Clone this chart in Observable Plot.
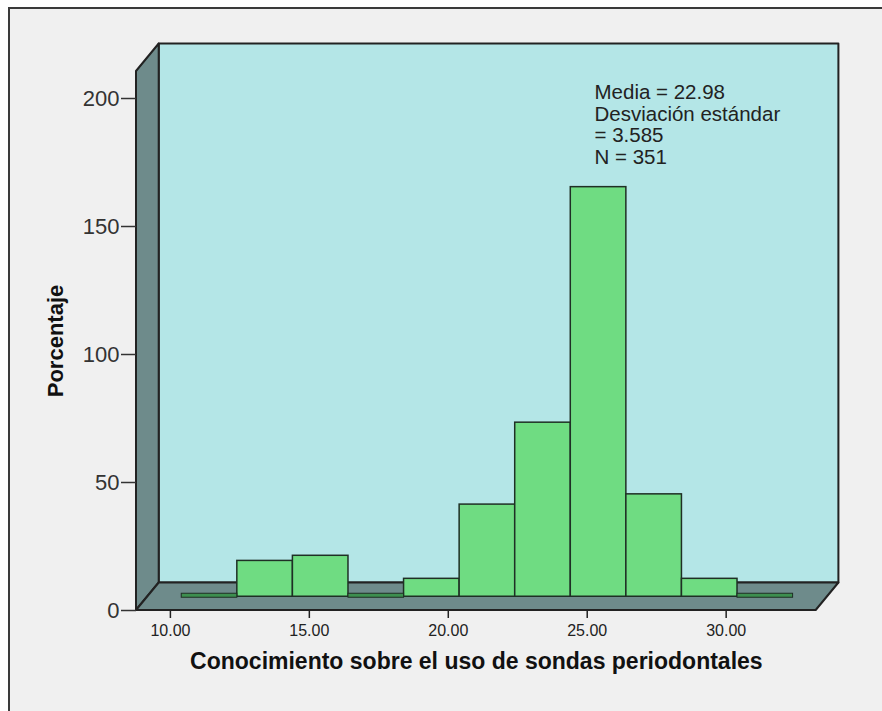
<!DOCTYPE html>
<html><head><meta charset="utf-8">
<script src="https://cdn.jsdelivr.net/npm/d3@7"></script>
<script src="https://cdn.jsdelivr.net/npm/@observablehq/plot@0.6"></script>
<style>html,body{margin:0;padding:0;background:#fff;} svg{display:block}</style>
</head><body><div id="chart"></div>
<script>
// ---- data ----
const binStart = [10, 12, 14, 16, 18, 20, 22, 24, 26, 28, 30];
const binWidth = 2;
const counts = [0, 14, 16, 0, 7, 36, 68, 160, 40, 7, 0];
const xTicks = [10, 15, 20, 25, 30];
const yTicks = [0, 50, 100, 150, 200];
const statsLines = ["Media = 22.98", "Desviación estándar", "= 3.585", "N = 351"];
const xTitle = "Conocimiento sobre el uso de sondas periodontales";
const yTitle = "Porcentaje";

const bins = binStart.map((s, i) => ({x1: s, x2: s + binWidth, count: counts[i]}));
const DX = 22.7, DY = -27.5; // 3D depth offset
const xDomain = [8.78, 33.24], yDomain = [0, 210.55];
const FONT = "'Liberation Sans', Arial, sans-serif";

function scene(index, scales, values, dims) {
  const g = d3.create("svg:g");
  const X = scales.x, Y = scales.y;
  const l = X(xDomain[0]), r = X(xDomain[1]), b = Y(0), t = Y(yDomain[1]);
  g.append("rect").attr("x", 9).attr("y", 8).attr("width", dims.width).attr("height", dims.height)
    .attr("fill", "#f0f0f0").attr("stroke", "#3a3a3a").attr("stroke-width", 2);
  const poly = (pts, fill) => g.append("path")
    .attr("d", "M" + pts.map(p => p.join(",")).join("L") + "Z")
    .attr("fill", fill).attr("stroke", "#222").attr("stroke-width", 2).attr("stroke-linejoin", "round");
  poly([[l + DX, t + DY], [r + DX, t + DY], [r + DX, b + DY], [l + DX, b + DY]], "#b4e6e7");
  poly([[l, t], [l + DX, t + DY], [l + DX, b + DY], [l, b]], "#6e8b8b");
  poly([[l, b], [l + DX, b + DY], [r + DX, b + DY], [r, b]], "#6e8b8b");
  return g.node();
}

const chart = Plot.plot({
  width: 882, height: 711,
  marginTop: 71, marginBottom: 101, marginLeft: 136, marginRight: 66.3,
  style: {fontFamily: FONT, background: "#fff", overflow: "visible"},
  x: {domain: xDomain},
  y: {domain: yDomain},
  marks: [
    scene,
    Plot.rect(bins.filter(d => d.count > 0), {
      x1: "x1", x2: "x2", y1: 0, y2: "count", dx: DX / 2, dy: DY / 2,
      fill: "#6fdc82", stroke: "#1f2f25", strokeWidth: 1.5
    }),
    Plot.rect(bins.filter(d => d.count === 0), {
      x1: "x1", x2: "x2", y1: 0, y2: 0, insetTop: -3, insetBottom: -1, dx: DX / 2, dy: DY / 2,
      fill: "#3d8f4f", stroke: "#1f2f25", strokeWidth: 1
    }),
    Plot.axisY({ticks: yTicks, tickSize: 15, tickPadding: 2, fontSize: 22, label: null, color: "#333", strokeWidth: 1.5}),
    Plot.axisX({ticks: xTicks, tickSize: 8, tickPadding: 6, fontSize: 16, label: null, color: "#222", strokeWidth: 1.5,
      tickFormat: d => d.toFixed(2)}),
    Plot.text([yTitle], {frameAnchor: "left", dx: -81, rotate: -90, textAnchor: "middle", lineAnchor: "middle",
      fontSize: 22, fontWeight: "bold", fill: "#111"}),
    Plot.text([xTitle], {frameAnchor: "bottom", dy: 51, textAnchor: "middle", lineAnchor: "middle",
      fontSize: 23, fontWeight: "bold", fill: "#111"}),
    Plot.text([statsLines.join("\n")], {frameAnchor: "top-left", dx: 458, dy: 11.5, textAnchor: "start", lineAnchor: "top",
      lineHeight: 1.07, fontSize: 20.5, fill: "#222"})
  ]
});
document.getElementById("chart").append(chart);
</script>
</body></html>
